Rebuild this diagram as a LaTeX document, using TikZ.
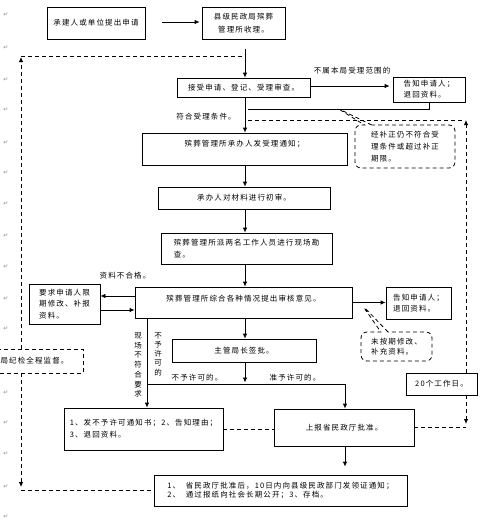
\documentclass[tikz,border=0pt]{standalone}
\usepackage{fontspec}
\newfontfamily\cjk{Noto Sans CJK SC}[LetterSpace=15]
\newfontfamily\symf{DejaVu Sans}
\usetikzlibrary{arrows.meta,shapes.callouts}
\begin{document}
\begin{tikzpicture}[x=1pt,y=-1pt,
  every node/.style={font=\cjk\fontsize{7.5}{10.5}\selectfont, inner sep=0pt},
  box/.style={draw, line width=0.8pt},
  dbox/.style={draw, line width=0.8pt, dash pattern=on 4pt off 3pt},
  ln/.style={line width=0.8pt},
  arr/.style={line width=0.8pt, -{Latex[length=5pt,width=4.5pt]}},
  dln/.style={line width=0.8pt, dash pattern=on 4pt off 3pt},
  darr/.style={line width=0.8pt, dash pattern=on 4pt off 3pt, -{Latex[length=5pt,width=4.5pt]}},
  note/.style={rectangle callout, draw, line width=0.8pt, dash pattern=on 4pt off 3pt, rounded corners=6pt, align=left},
  retmark/.style={font=\symf\fontsize{6}{6}\selectfont, text=black!45}
]
\useasboundingbox[fill=white] (0,0) rectangle (487,525);
\clip (0,0) rectangle (487,525);

% paragraph marks
\foreach \yy in {15,48,80,110,143,173,204,236,267,299,329,393,423,454,487,517}
  \node[retmark] (rm\yy) at (6,\yy) {↵};

% axis coordinates
\coordinate (ax) at (245,0);
\coordinate (lx) at (21,0);
\coordinate (rx) at (466,0);

% boxes
\node[box, minimum width=98pt, minimum height=32pt] (A) at (96,23) {承建人或单位提出申请};
\node[box, minimum width=83pt, minimum height=32pt, align=center, font=\cjk\fontsize{7.5}{13}\selectfont] (B) at (243.5,23) {县级民政局殡葬\\管理所收理。};
\node[box, minimum width=133pt, minimum height=19pt] (C) at (243.5,87.5) {接受申请、登记、受理审查。};
\node[box, minimum width=72pt, minimum height=25pt, align=left, font=\cjk\fontsize{7.5}{11}\selectfont] (D) at (429,89.5) {告知申请人；\\退回资料。};
\node[box, minimum width=205pt, minimum height=32pt, text height=7pt, text depth=13pt] (E) at (244.5,149) {殡葬管理所承办人发受理通知；};
\node[box, minimum width=172pt, minimum height=22pt] (F) at (244,198) {承办人对材料进行初审。};
\node[box, minimum width=171pt, minimum height=31pt, align=left, font=\cjk\fontsize{7.5}{12}\selectfont] (G) at (246.5,248.5) {殡葬管理所派两名工作人员进行现场勘\\查。};
\node[box, minimum width=217pt, minimum height=31pt, text height=7pt, text depth=10pt] (H) at (243.5,302.5) {殡葬管理所综合各种情况提出审核意见。};
\node[box, minimum width=71pt, minimum height=40pt, align=left, font=\cjk\fontsize{7.5}{11.5}\selectfont] (I) at (64.5,304) {要求申请人限\\期修改、补报\\资料。};
\node[box, minimum width=65pt, minimum height=32pt, align=left, font=\cjk\fontsize{7.5}{11}\selectfont] (J) at (418.5,303) {告知申请人；\\退回资料。};
\node[box, minimum width=144pt, minimum height=23pt] (L) at (244,350.5) {主管局长签批。};
\node[box, minimum width=159pt, minimum height=42pt, align=left, font=\cjk\fontsize{7.5}{12}\selectfont] (M) at (143.5,429) {1、发不予许可通知书；2、告知理由；\\3、退回资料。};
\node[box, minimum width=140pt, minimum height=37pt] (N) at (344,427.5) {上报省民政厅批准。};
\node[box, minimum width=253pt, minimum height=31pt, align=left, font=\cjk\fontsize{7.5}{9.5}\selectfont] (O) at (280.5,490.5) {1、~~省民政厅批准后，10日内向县级民政部门发领证通知；\\2、~~通过报纸向社会长期公开；3、存档。};
\node[dbox, minimum width=97pt, minimum height=24pt] (P) at (34.5,361) {局纪检全程监督。};
\node[box, minimum width=71pt, minimum height=22pt] (Q) at (441.5,384) {20个工作日。};

% callouts
\node[note, minimum width=100pt, minimum height=43pt, font=\cjk\fontsize{7.5}{12}\selectfont, callout absolute pointer={(337,108)}] (C1) at (405,146.5) {经补正仍不符合受\\理条件或超过补正\\期限。};
\node[note, minimum width=71pt, minimum height=29pt, font=\cjk\fontsize{7.5}{10}\selectfont, callout absolute pointer={(362,305)}] (K) at (396.5,346.5) {未按期修改、\\补充资料。};

% labels
\node (lbl1) at (352,71) {不属本局受理范围的};
\node (lbl2) at (206,117) {符合受理条件。};
\node (lbl3) at (125,276) {资料不合格。};
\node (lbl4) at (197,378) {不予许可的。};
\node (lbl5) at (295,378) {准予许可的。};
\node[align=center, font=\cjk\fontsize{7.5}{9.7}\selectfont] (lbl6) at (138,365) {现\\场\\不\\符\\合\\要\\求};
\node[align=center, font=\cjk\fontsize{7.5}{9.3}\selectfont] (lbl7) at (158,354) {不\\予\\许\\可\\的};

% junction coordinates
\coordinate (j1) at (248,109);
\coordinate (hl) at (147,384);
\coordinate (hr) at (345,384);
\coordinate (tl) at (21,56);
\coordinate (tr) at (245,56);
\coordinate (ra) at (466,120);
\coordinate (rl) at (248,120);
\coordinate (bl) at (21,490);

% connectors
\draw[arr, shorten <=17pt, shorten >=2pt] (A.east |- 0,22) -- (B.west |- 0,22);
\draw[arr, shorten <=10pt] (ax |- B.south) -- (ax |- C.north);
\draw[arr, shorten >=3pt] (C.east |- 0,86) -- (D.west |- 0,86);
\draw[ln] (D.south) |- (j1);
\draw[arr] (ax |- C.south) -- (ax |- E.north);
\draw[arr] (ax |- E.south) -- (ax |- F.north);
\draw[arr] (ax |- F.south) -- (ax |- G.north);
\draw[arr] (ax |- G.south) -- (ax |- H.north);
\draw[arr] ([yshift=6.5pt]H.west) -- ([yshift=6.5pt]H.west -| I.east);
\draw[arr] ([yshift=-6pt]I.east) -- ([yshift=-6pt]I.east -| H.west);
\draw[arr] (H.east) -- (H.east -| J.west);
\draw[arr] (ax |- H.south) -- (ax |- L.north);
\draw[arr] (ax |- L.south) -- ([yshift=1.5pt]ax |- hl);
\draw[ln] (hl) -- (hr);
\draw[arr] (hl |- H.south) -- (hl |- M.north);
\draw[arr] (hr) -- (hr |- N.north);
\draw[dln] (M.east) -- (M.east -| N.west);
\draw[arr, shorten >=8pt] (hr |- N.south) -- (hr |- O.north);

% monitoring dashed lines
\draw[darr] (lx |- P.north) -- ([yshift=-1pt]tl);
\draw[dln] (tl) -- (tr);
\draw[darr] (lx |- P.south) -- ([yshift=3pt]bl);
\draw[dln] (bl) -- (bl -| O.west);
\draw[darr] (rx |- Q.north) -- (ra);
\draw[dln] (rl) -- ([xshift=-4pt]ra);
\draw[darr] (rx |- Q.south) -- ([yshift=3.5pt]rx |- N.east);
\draw[dln] (N.east) -- (N.east -| rx);
\end{tikzpicture}
\end{document}
